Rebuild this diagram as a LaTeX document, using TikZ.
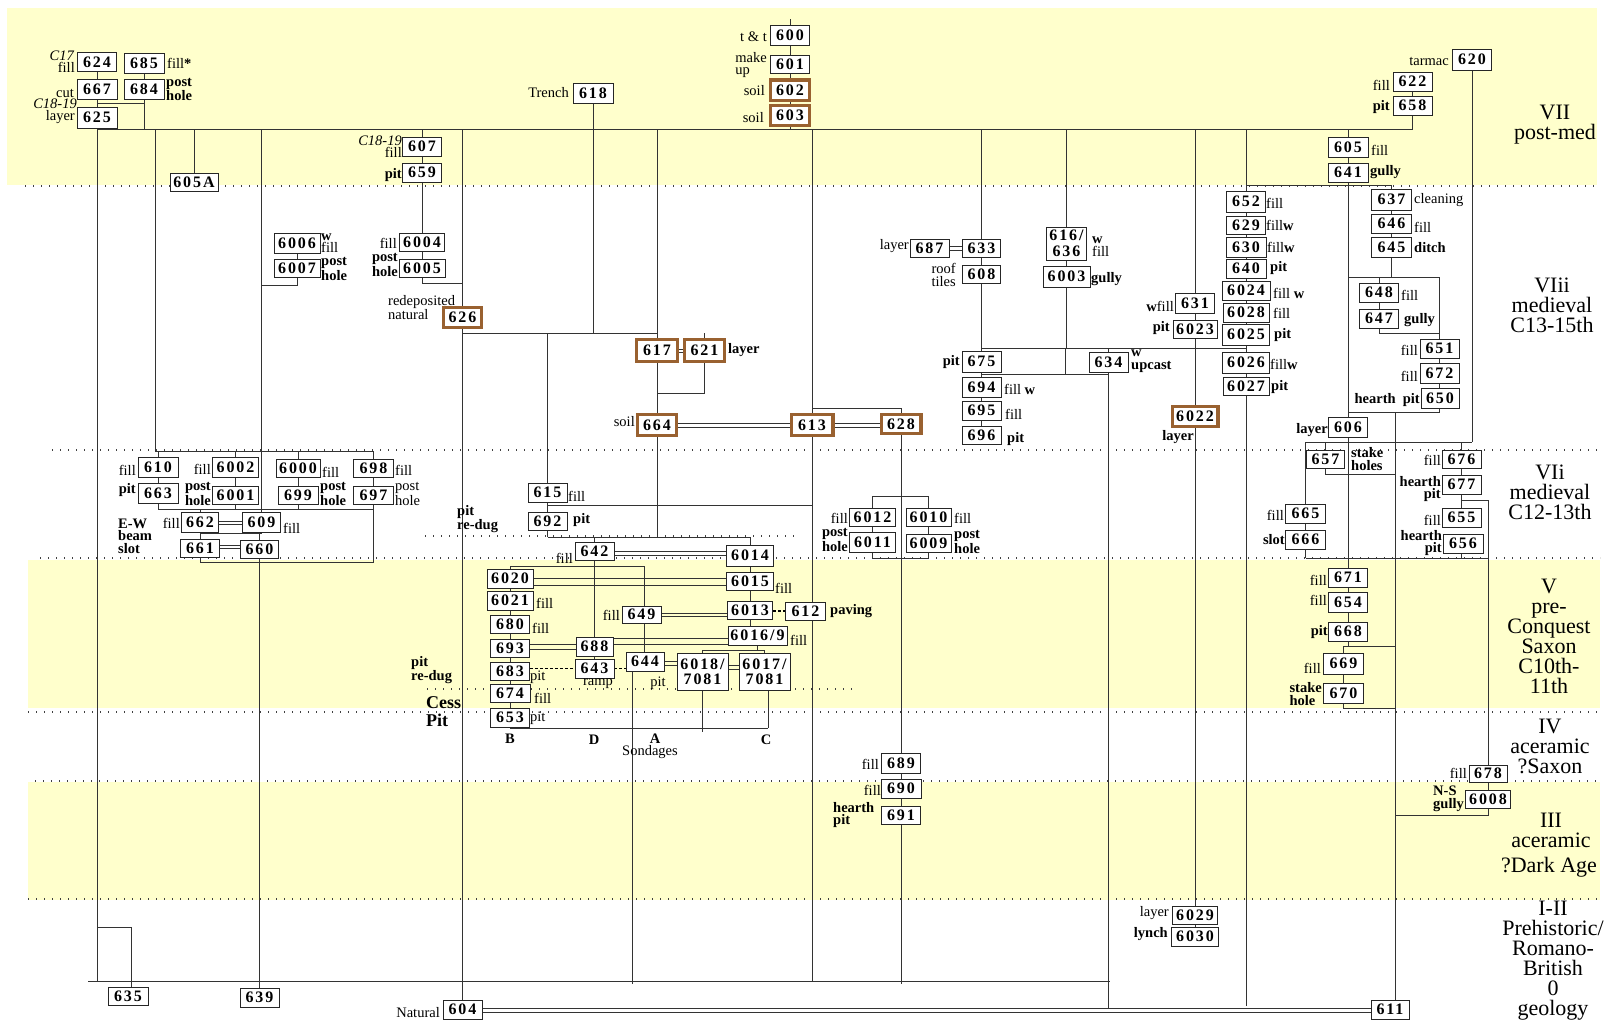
\documentclass[tikz,border=0pt]{standalone}
\usepackage{fontspec}
\setmainfont{Liberation Serif}
\newfontfamily\numfam[LetterSpace=12]{Liberation Serif}
\newcommand\myNum{\numfam\bfseries\fontsize{16}{15.5}\selectfont}
\newcommand\myLab{\fontsize{14.5}{12.5}\selectfont}
\newcommand\myLabB{\bfseries\fontsize{14.5}{12.5}\selectfont}
\newcommand\myPh{\fontsize{22}{20}\selectfont}
\newcommand\dbline[4]{\draw[cn,line width=0.7pt] (#1.east |- 0,#3) -- (#2.west |- 0,#3); \draw[cn,line width=0.7pt] (#1.east |- 0,#4) -- (#2.west |- 0,#4);}
\pgfdeclarelayer{bg}
\pgfsetlayers{bg,main}
\definecolor{ylw}{RGB}{255,255,204}
\definecolor{brn}{RGB}{153,97,48}
\tikzset{
 box/.style={draw=black!85, line width=0.8pt, fill=white, inner sep=0pt, minimum width=39pt, minimum height=19pt, font=\myNum, text height=10.9pt, text depth=0pt},
 bbox/.style={box, draw=brn, line width=3.4pt, minimum width=38.6pt, minimum height=20.6pt},
 box2/.style={draw=black!85, line width=0.8pt, fill=white, inner sep=0pt, align=center, font=\myNum},
 lab/.style={inner sep=0pt, font=\myLab, align=left},
 blab/.style={inner sep=0pt, font=\myLabB, align=left},
 ph/.style={inner sep=0pt, font=\myPh, align=center},
 cn/.style={draw=black!80, line width=0.8pt},
 dsh/.style={draw=black, line width=1.3pt, dash pattern=on 3pt off 2pt},
 dotln/.style={draw=black!75, line width=1.2pt, dash pattern=on 1.2pt off 6.8pt},
}
\begin{document}
\begin{tikzpicture}[x=1pt,y=-1pt]
\useasboundingbox (0,0) rectangle (1610,1021);
% ---------------- boxes: phase VII
\node[box] (n624) at (97,62) {624};
\node[box,minimum width=40pt,minimum height=20pt] (n685) at (144,63) {685};
\node[box,minimum width=40pt,minimum height=20pt] (n667) at (97,89) {667};
\node[box,minimum width=40pt,minimum height=20pt] (n684) at (144,89) {684};
\node[box,minimum width=40pt,minimum height=21pt] (n625) at (97,117.5) {625};
\node[box] (n607) at (422,146.5) {607};
\node[box] (n659) at (422,172.5) {659};
\node[box,minimum width=40pt,minimum height=20pt] (n618) at (593,93) {618};
\node[box,minimum height=20pt] (n600) at (790,35) {600};
\node[box,minimum height=18pt] (n601) at (790,64) {601};
\node[bbox,minimum height=20.4pt] (n602) at (790,90) {602};
\node[bbox,minimum height=20.4pt] (n603) at (790,115.5) {603};
\node[box,minimum height=21pt] (n620) at (1472,59.5) {620};
\node[box] (n622) at (1412.5,81.5) {622};
\node[box] (n658) at (1412.5,105.5) {658};
\node[box,minimum width=40pt,minimum height=20pt] (n605) at (1348,147) {605};
\node[box,minimum width=40pt] (n641) at (1348,172.5) {641};
\node[box,minimum width=48pt,minimum height=18pt] (n605A) at (194,182) {605A};
% ---------------- phase VIii
\node[box,minimum width=46pt,minimum height=20pt] (n6006) at (297,243) {6006};
\node[box,minimum width=46pt,minimum height=18pt] (n6007) at (297,268) {6007};
\node[box,minimum width=45pt,minimum height=18pt] (n6004) at (422,242) {6004};
\node[box,minimum width=46pt,minimum height=18pt] (n6005) at (422,268) {6005};
\node[bbox,minimum width=37.6pt,minimum height=19.6pt] (n626) at (462.5,317.5) {626};
\node[bbox,minimum width=40.6pt,minimum height=21.6pt] (n617) at (657,350.5) {617};
\node[bbox,minimum width=39.6pt,minimum height=21.6pt] (n621) at (704.5,350.5) {621};
\node[bbox,minimum width=38.6pt,minimum height=20.6pt] (n664) at (657,425) {664};
\node[bbox,minimum width=41.6pt,minimum height=20.6pt] (n613) at (812,425) {613};
\node[bbox,minimum width=39.6pt,minimum height=18.6pt] (n628) at (901,424) {628};
\node[box,minimum height=18pt] (n687) at (929.5,248) {687};
\node[box,minimum width=38pt,minimum height=18pt] (n633) at (981.5,248) {633};
\node[box,minimum width=38pt,minimum height=18pt] (n608) at (981.5,274) {608};
\node[box2,minimum width=40pt,minimum height=33pt] (n616) at (1066.5,243.5) {616/\\636};
\node[box,minimum width=47pt,minimum height=21pt] (n6003) at (1066.5,276.5) {6003};
\node[box,minimum height=20pt] (n631) at (1195,303) {631};
\node[box,minimum width=44pt,minimum height=18pt] (n6023) at (1195,329) {6023};
\node[box,minimum height=21pt] (n675) at (981.5,361.5) {675};
\node[box,minimum height=20pt] (n634) at (1108.5,362) {634};
\node[box,minimum height=20pt] (n694) at (981.5,387) {694};
\node[box] (n695) at (981.5,410.5) {695};
\node[box,minimum height=18pt] (n696) at (981.5,435) {696};
\node[bbox,minimum width=45.6pt,minimum height=19.6pt] (n6022) at (1195,416.5) {6022};
\node[box,minimum height=21pt] (n652) at (1246,201.5) {652};
\node[box,minimum height=18pt] (n629) at (1246,225) {629};
\node[box,minimum width=40pt,minimum height=20pt] (n630) at (1246,247) {630};
\node[box,minimum width=40pt] (n640) at (1246,268.5) {640};
\node[box,minimum width=48pt] (n6024) at (1246,290.5) {6024};
\node[box,minimum width=46pt] (n6028) at (1246,312.5) {6028};
\node[box,minimum width=47pt,minimum height=21pt] (n6025) at (1246,334.5) {6025};
\node[box,minimum width=47pt,minimum height=21pt] (n6026) at (1246,362.5) {6026};
\node[box,minimum width=46pt,minimum height=18pt] (n6027) at (1246,386) {6027};
\node[box,minimum width=40pt,minimum height=21pt] (n637) at (1391.5,199.5) {637};
\node[box,minimum width=40pt] (n646) at (1391.5,223.5) {646};
\node[box,minimum width=40pt,minimum height=20pt] (n645) at (1391.5,247) {645};
\node[box] (n648) at (1379,292.5) {648};
\node[box] (n647) at (1379,318.5) {647};
\node[box] (n651) at (1439.5,348.5) {651};
\node[box,minimum height=20pt] (n672) at (1439.5,373) {672};
\node[box,minimum width=38pt,minimum height=20pt] (n650) at (1440,398) {650};
\node[box,minimum height=20pt] (n606) at (1348,427) {606};
% ---------------- phase VIi
\node[box,minimum width=40pt,minimum height=20pt] (n610) at (158,467) {610};
\node[box,minimum width=46pt,minimum height=20pt] (n6002) at (235.5,467) {6002};
\node[box,minimum width=44pt,minimum height=18pt] (n6000) at (298,468) {6000};
\node[box,minimum width=40pt,minimum height=18pt] (n698) at (373.5,468) {698};
\node[box,minimum width=40pt,minimum height=20pt] (n663) at (158,493) {663};
\node[box,minimum width=46pt,minimum height=18pt] (n6001) at (235.5,495) {6001};
\node[box,minimum width=40pt,minimum height=18pt] (n699) at (298,495) {699};
\node[box,minimum width=40pt,minimum height=18pt] (n697) at (373.5,495) {697};
\node[box,minimum width=37pt,minimum height=20pt] (n662) at (200,522) {662};
\node[box,minimum width=38pt,minimum height=20pt] (n609) at (261.5,522) {609};
\node[box,minimum width=39pt,minimum height=18pt] (n661) at (200,548) {661};
\node[box,minimum width=38pt,minimum height=18pt] (n660) at (259.5,549) {660};
\node[box] (n615) at (547.5,492.5) {615};
\node[box,minimum height=18pt] (n692) at (547.5,521) {692};
\node[box,minimum width=46pt,minimum height=18pt] (n6012) at (872.5,517) {6012};
\node[box,minimum width=45pt,minimum height=18pt] (n6010) at (928.5,517) {6010};
\node[box,minimum width=46pt,minimum height=20pt] (n6011) at (872.5,542) {6011};
\node[box,minimum width=45pt,minimum height=18pt] (n6009) at (928.5,543) {6009};
\node[box,minimum width=38pt,minimum height=18pt] (n657) at (1325.5,459) {657};
\node[box,minimum height=18pt] (n676) at (1461.5,459) {676};
\node[box] (n677) at (1461.5,484.5) {677};
\node[box] (n655) at (1461.5,517.5) {655};
\node[box,minimum width=40pt] (n656) at (1463,543.5) {656};
\node[box,minimum width=40pt] (n665) at (1305.5,513.5) {665};
\node[box,minimum width=40pt] (n666) at (1305.5,539.5) {666};
% ---------------- phase V
\node[box,minimum height=18pt] (n642) at (594.5,551) {642};
\node[box,minimum width=47pt,minimum height=21pt] (n6014) at (750,555.5) {6014};
\node[box,minimum width=46pt] (n6020) at (510,578.5) {6020};
\node[box,minimum width=47pt,minimum height=18pt] (n6015) at (750,581) {6015};
\node[box,minimum width=46pt] (n6021) at (510,600.5) {6021};
\node[box,minimum width=45pt,minimum height=18pt] (n6013) at (750,610) {6013};
\node[box,minimum width=40pt,minimum height=18pt] (n612) at (805.5,611) {612};
\node[box,minimum height=17pt] (n649) at (641.5,614.5) {649};
\node[box,minimum height=18pt] (n680) at (510,624) {680};
\node[box,minimum width=59pt] (n6016) at (757.5,635.5) {6016/9};
\node[box,minimum height=18pt] (n693) at (510,648) {693};
\node[box,minimum width=37pt] (n688) at (594.5,646.5) {688};
\node[box,minimum height=18pt] (n683) at (510,671) {683};
\node[box] (n643) at (594.5,668.5) {643};
\node[box,minimum width=38pt] (n644) at (645,661.5) {644};
\node[box2,minimum width=51pt,minimum height=37pt] (n6018) at (702.5,671.5) {6018/\\7081};
\node[box2,minimum width=51pt,minimum height=37pt] (n6017) at (764.5,671.5) {6017/\\7081};
\node[box,minimum width=40pt,minimum height=18pt] (n674) at (510,693) {674};
\node[box] (n653) at (510,717.5) {653};
\node[box] (n671) at (1348,577.5) {671};
\node[box,minimum height=20pt] (n654) at (1348,602) {654};
\node[box] (n668) at (1348,631.5) {668};
\node[box,minimum width=40pt,minimum height=21pt] (n669) at (1343.5,663.5) {669};
\node[box,minimum width=40pt,minimum height=20pt] (n670) at (1343.5,693) {670};
% ---------------- phases IV, III, I-II
\node[box,minimum height=20pt] (n689) at (901,763) {689};
\node[box,minimum width=40pt] (n690) at (901,788.5) {690};
\node[box,minimum height=18pt] (n691) at (901,815) {691};
\node[box,minimum width=38pt,minimum height=17pt] (n678) at (1488,773.5) {678};
\node[box,minimum width=45pt,minimum height=18pt] (n6008) at (1488,799) {6008};
\node[box,minimum width=45pt,minimum height=18pt] (n6029) at (1195,915) {6029};
\node[box,minimum width=47pt] (n6030) at (1195,936.5) {6030};
\node[box,minimum width=40pt,minimum height=18pt] (n635) at (128,996) {635};
\node[box] (n639) at (259.5,997.5) {639};
\node[box] (n604) at (462.5,1009.5) {604};
\node[box,minimum width=38pt] (n611) at (1390,1009.5) {611};
% ---------------- labels
\node[lab,anchor=east,font=\myLab\itshape] (t1) at (74,56) {C17};
\node[lab,anchor=east] (t2) at (75,67.5) {fill};
\node[lab,anchor=west] (t3) at (167,63) {fill{\bfseries *}};
\node[lab,anchor=east] (t4) at (74,93) {cut};
\node[lab,anchor=east,font=\myLab\itshape] (t5) at (77,104) {C18-19};
\node[blab,anchor=west] (t6) at (166,89.5) {post\\hole};
\node[lab,anchor=east] (t7) at (75,117.5) {layer};
\node[lab,anchor=east,font=\myLab\itshape] (t8) at (402,141) {C18-19};
\node[lab,anchor=east] (t9) at (402,152.5) {fill};
\node[blab,anchor=east] (t10) at (402,175) {pit};
\node[lab,anchor=east] (t11) at (569,93) {Trench};
\node[lab,anchor=east] (t12) at (767,37) {t \& t};
\node[lab,anchor=east] (t13) at (767,65) {make\\up};
\node[lab,anchor=east] (t14) at (765,91) {soil};
\node[lab,anchor=east] (t15) at (764,118) {soil};
\node[lab,anchor=east] (t16) at (1449,61) {tarmac};
\node[lab,anchor=east] (t17) at (1390,85) {fill};
\node[blab,anchor=east] (t18) at (1390,107) {pit};
\node[lab,anchor=west] (t19) at (1371,150) {fill};
\node[blab,anchor=west] (t20) at (1370,172) {gully};
\node[lab,anchor=west] (t21) at (321,243) {\textbf{w}\\fill};
\node[blab,anchor=west] (t22) at (321,269) {post\\hole};
\node[lab,anchor=east] (t23) at (397,243) {fill};
\node[blab,anchor=east] (t24) at (398,265) {post\\hole};
\node[lab,anchor=west] (t25) at (388,307.5) {redeposited\\natural};
\node[lab,anchor=east] (t26) at (909,246) {layer};
\node[lab,anchor=east] (t27) at (956,275) {roof\\tiles};
\node[lab,anchor=west] (t28) at (1092,246.5) {\textbf{w}\\fill};
\node[blab,anchor=west] (t29) at (1091,279) {gully};
\node[lab,anchor=east] (t30) at (1174,306) {\textbf{w}fill};
\node[blab,anchor=east] (t31) at (1170,328) {pit};
\node[blab,anchor=east] (t32) at (960,362) {pit};
\node[lab,anchor=west] (t33) at (1004,389) {fill \textbf{w}};
\node[lab,anchor=west] (t34) at (1005,414) {fill};
\node[blab,anchor=west] (t35) at (1007,439) {pit};
\node[blab,anchor=west] (t36) at (1131,361) {w\\upcast};
\node[blab] (t37) at (1178,437) {layer};
\node[lab,anchor=west] (t38) at (1266,203) {fill};
\node[lab,anchor=west] (t39) at (1266,225) {fill\textbf{w}};
\node[lab,anchor=west] (t40) at (1267,247) {fill\textbf{w}};
\node[blab,anchor=west] (t41) at (1270,268) {pit};
\node[lab,anchor=west] (t42) at (1273,293) {fill \textbf{w}};
\node[lab,anchor=west] (t43) at (1273,313) {fill};
\node[blab,anchor=west] (t44) at (1274,335) {pit};
\node[lab,anchor=west] (t45) at (1270,364) {fill\textbf{w}};
\node[blab,anchor=west] (t46) at (1271,387) {pit};
\node[lab,anchor=west] (t47) at (1414,200) {cleaning};
\node[lab,anchor=west] (t48) at (1414,227) {fill};
\node[blab,anchor=west] (t49) at (1414,248) {ditch};
\node[lab,anchor=west] (t50) at (1401,295) {fill};
\node[blab,anchor=west] (t51) at (1404,320) {gully};
\node[lab,anchor=east] (t52) at (1418,350) {fill};
\node[lab,anchor=east] (t53) at (1418,376) {fill};
\node[blab,anchor=east] (t54) at (1420,400) {hearth\ \ pit};
\node[blab,anchor=east] (t55) at (1328,430) {layer};
\node[blab,anchor=west] (t56) at (728,350) {layer};
\node[lab,anchor=east] (t57) at (635,422) {soil};
% VIi labels
\node[lab,anchor=east] (t60) at (136,470) {fill};
\node[lab,anchor=east] (t61) at (211,469) {fill};
\node[lab,anchor=west] (t62) at (322,472) {fill};
\node[lab,anchor=west] (t63) at (395,470) {fill};
\node[blab,anchor=east] (t64) at (136,490) {pit};
\node[blab,anchor=east] (t65) at (211,494) {post\\hole};
\node[blab,anchor=west] (t66) at (320,494) {post\\hole};
\node[lab,anchor=west] (t67) at (395,494) {post\\hole};
\node[blab,anchor=west] (t68) at (118,536) {E-W\\beam\\slot};
\node[lab,anchor=east] (t69) at (180,523) {fill};
\node[lab,anchor=west] (t70) at (283,528) {fill};
\node[lab,anchor=west] (t71) at (568,496) {fill};
\node[blab,anchor=west] (t72) at (573,520) {pit};
\node[blab,anchor=west] (t73) at (457,519) {pit\\re-dug};
\node[lab,anchor=east] (t74) at (848,518) {fill};
\node[lab,anchor=west] (t75) at (954,518) {fill};
\node[blab,anchor=east] (t76) at (848,540) {post\\hole};
\node[blab,anchor=west] (t77) at (954,542) {post\\hole};
\node[blab,anchor=west] (t78) at (1351,459) {stake\\holes};
\node[lab,anchor=east] (t79) at (1441,460) {fill};
\node[blab,anchor=east,align=right] (t80) at (1441,489) {hearth\\pit};
\node[lab,anchor=east] (t81) at (1441,520) {fill};
\node[blab,anchor=east,align=right] (t82) at (1442,543) {hearth\\pit};
\node[lab,anchor=east] (t83) at (1284,515) {fill};
\node[blab,anchor=east] (t84) at (1285,540) {slot};
% V labels
\node[lab,anchor=east] (t90) at (573,558) {fill};
\node[lab,anchor=west] (t91) at (775,588) {fill};
\node[lab,anchor=west] (t92) at (536,603) {fill};
\node[lab,anchor=west] (t93) at (532,628) {fill};
\node[lab,anchor=west] (t94) at (790,640) {fill};
\node[blab,anchor=west] (t95) at (830,611) {paving};
\node[lab,anchor=east] (t96) at (620,615) {fill};
\node[lab,anchor=west] (t97) at (530,677) {pit};
\node[lab] (t98) at (598,684) {ramp};
\node[lab] (t99) at (658,683) {pit};
\node[blab,anchor=west] (t100) at (411,670) {pit\\re-dug};
\node[lab,anchor=west] (t101) at (534,698) {fill};
\node[lab,anchor=west] (t102) at (530,718) {pit};
\node[blab,anchor=west,font=\bfseries\fontsize{18}{18}\selectfont] (t103) at (426,712) {Cess\\Pit};
\node[lab,anchor=east] (t104) at (1327,580) {fill};
\node[lab,anchor=east] (t105) at (1327,600) {fill};
\node[blab,anchor=east] (t106) at (1328,632) {pit};
\node[lab,anchor=east] (t107) at (1321,668) {fill};
\node[blab,anchor=east] (t108) at (1322,694) {stake\\hole};
\node[blab] (t109) at (510,739) {B};
\node[blab] (t110) at (594,740) {D};
\node[blab] (t111) at (655,739) {A};
\node[blab] (t112) at (766,740) {C};
\node[lab] (t113) at (650,752) {Sondages};
% IV-I labels
\node[lab,anchor=east] (t120) at (879,764) {fill};
\node[lab,anchor=east] (t121) at (881,790) {fill};
\node[blab,anchor=west] (t122) at (833,815) {hearth\\pit};
\node[lab,anchor=east] (t123) at (1467,773) {fill};
\node[blab,anchor=west] (t124) at (1433,799) {N-S\\gully};
\node[lab,anchor=east] (t125) at (1169,913) {layer};
\node[blab,anchor=east] (t126) at (1168,934) {lynch};
\node[lab,anchor=east] (t127) at (440,1013) {Natural};
% phase names
\node[ph] (p7) at (1555,125) {VII\\post-med};
\node[ph] (p6b) at (1552,305) {VIii\\medieval\\C13-15th};
\node[ph] (p6a) at (1550,492) {VIi\\medieval\\C12-13th};
\node[ph] (p5) at (1549,636) {V\\pre-\\Conquest\\Saxon\\C10th-\\11th};
\node[ph] (p4) at (1550,746) {IV\\aceramic\\?Saxon};
\node[ph] (p3) at (1551,830) {III\\aceramic};
\node[ph] (p3b) at (1549,867) {?Dark Age};
\node[ph] (p1) at (1553,961) {I-II\\Prehistoric/\\Romano-\\British\\0\\geology};
% ================= background: bands and connectors
\begin{pgfonlayer}{bg}
\fill[ylw] (7,8) rectangle (1597,185);
\fill[ylw] (28,560) rectangle (1600,708);
\fill[ylw] (28,782) rectangle (1600,900);
\draw[dotln] (25,186) -- (1600,186);
\draw[dotln] (52,450) -- (1600,450);
\draw[dotln] (40,558) -- (1600,558);
\draw[dotln] (28,712) -- (1600,712);
\draw[dotln] (35,781) -- (1600,781);
\draw[dotln] (28,899) -- (1600,899);
\draw[dotln] (425,536) -- (797,536);
\draw[dotln] (427,689) -- (855,689);
% --- phase VII
\draw[cn] (n624) -- (n667);
\draw[cn] (n667) -- (n625);
\draw[cn] (n685) -- (n684);
\draw[cn] (n684.south) -- (n684.south |- 0,129);
\draw[cn] (n625.north |- 0,103) -- (n684.south |- 0,103);
\draw[cn] (97,129) -- (1412.5,129);
\draw[cn] (n625.south) -- (97,982);
\draw[cn] (88,981) -- (1110,981);
\draw[cn] (97,927) -| (n635.north -| 131,0);
\draw[cn] (155,129) -- (155,451);
\draw[cn] (194,129) -- (n605A.north);
\draw[cn] (261.5,129) -- (n609.north);
\draw[cn] (n600.north) -- (790,19);
\draw[cn] (n600) -- (n601);
\draw[cn] (n601) -- (n602);
\draw[cn] (n602) -- (n603);
\draw[cn] (n603.south) -- (790,129);
\draw[cn] (n618.south) -- (593,333);
\draw[cn] (n622) -- (n658);
\draw[cn] (n658.south) -- (1412.5,129);
\draw[cn] (1348,129) -- (n605.north);
\draw[cn] (n605) -- (n641);
\draw[cn] (n641.south) -- (n606.north);
% --- phase VIii, left and centre
\draw[cn] (n6006) -- (n6007);
\draw[cn] (n6007.south) -- (297,285) -- (261.5,285);
\draw[cn] (422,129) -- (n607.north);
\draw[cn] (n607) -- (n659);
\draw[cn] (n659) -- (n6004);
\draw[cn] (n6004) -- (n6005);
\draw[cn] (n6005.south) -- (422,283) -- (462.5,283);
\draw[cn] (462.5,129) -- (n626.north);
\draw[cn] (n626.south) -- (n604.north);
\draw[cn] (462.5,333) -- (657,333);
\draw[cn] (657,129) -- (n617.north);
\draw[cn] (547.5,333) -- (n615.north);
\draw[cn] (n615) -- (n692);
\draw[cn] (547.5,505) -- (812,505);
\draw[cn] (n692.south) -- (547.5,537);
\draw[cn] (547.5,537) -- (750,537);
\draw[cn] (n621.north) -- (704.5,333);
\draw[cn] (n617) -- (n664);
\draw[cn] (n621.south) -- (704.5,393) -- (657,393);
\draw[cn] (n664.south) -- (657,537);
\dbline{n617}{n621}{349}{352.5}
\dbline{n664}{n613}{423}{427}
\dbline{n613}{n628}{423}{427}
\draw[cn] (812,129) -- (812,981);
\draw[cn] (812,408) -- (901,408) -- (n628.north);
\draw[cn] (n628.south) -- (901,984);
% --- VIii right
\draw[cn] (981.5,129) -- (n633.north);
\dbline{n687}{n633}{246}{250.5}
\draw[cn] (n633) -- (n608);
\draw[cn] (n608.south) -- (981.5,348);
\draw[cn] (981.5,348) -- (1246,348);
\draw[cn] (1066.5,129) -- (n616.north);
\draw[cn] (n616) -- (n6003);
\draw[cn] (n6003.south) -- (1066.5,348);
\draw[cn] (1195,129) -- (n631.north);
\draw[cn] (n631) -- (n6023);
\draw[cn] (n6023.south) -- (n6022.north);
\draw[cn] (n6022.south) -- (n6029.north);
\draw[cn] (n6029) -- (n6030);
\draw[cn] (981.5,348) -- (n675.north);
\draw[cn] (n675) -- (n694);
\draw[cn] (n694) -- (n695);
\draw[cn] (n695) -- (n696);
\draw[cn] (1065,348) -- (1065,374);
\draw[cn] (981.5,374) -- (1108.5,374);
\draw[cn] (1108.5,348) -- (n634.north);
\draw[cn] (n634.south) -- (1108.5,1008);
\draw[cn] (1246,129) -- (n652.north);
\draw[cn] (n652) -- (n629);
\draw[cn] (n629) -- (n630);
\draw[cn] (n630) -- (n640);
\draw[cn] (n640) -- (n6024);
\draw[cn] (n6024) -- (n6028);
\draw[cn] (n6028) -- (n6025);
\draw[cn] (n6025) -- (n6026);
\draw[cn] (n6026) -- (n6027);
\draw[cn] (n6027.south) -- (1246,1006);
\draw[cn] (1246,185) -- (1391.5,185) -- (n637.north);
\draw[cn] (n637) -- (n646);
\draw[cn] (n646) -- (n645);
\draw[cn] (n645.south) -- (1391.5,277);
\draw[cn] (1348,277) -- (1439.5,277) -- (n651.north);
\draw[cn] (1379,277) -- (n648.north);
\draw[cn] (n648) -- (n647);
\draw[cn] (n647.south) -- (1379,333) -- (1439.5,333);
\draw[cn] (n651) -- (n672);
\draw[cn] (n672) -- (n650.north -| 1439.5,0);
\draw[cn] (n650.south -| 1439.5,0) -- (1439.5,412) -- (1348,412);
\draw[cn] (1395,412) -- (n611.north -| 1395,0);
\draw[cn] (n606.south) -- (n671.north);
\draw[cn] (1305.5,442) -- (1472,442);
\draw[cn] (n620.south) -- (1472,442);
\draw[cn] (1325.5,442) -- (n657.north);
\draw[cn] (1305.5,442) -- (n665.north);
\draw[cn] (1461.5,442) -- (n676.north);
\draw[cn] (n657.south) -- (1325.5,474) -- (1395,474);
\draw[cn] (n676) -- (n677);
\draw[cn] (n677) -- (n655);
\draw[cn] (1461.5,500) -- (1488,500) -- (n678.north);
\draw[cn] (n655.south) -- (n655.south -| n656.north);
\draw[cn] (n656.south -| 1461.5,0) -- (1461.5,558);
\draw[cn] (1305.5,558) -- (1488,558);
\draw[cn] (n665) -- (n666);
\draw[cn] (n666.south) -- (1305.5,558);
\draw[cn] (n671) -- (n654);
\draw[cn] (n654) -- (n668);
\draw[cn] (n668.south) -- (1348,646);
\draw[cn] (1343.5,646) -- (1395,646);
\draw[cn] (1343.5,646) -- (n669.north);
\draw[cn] (n669) -- (n670);
\draw[cn] (n670.south) -- (1343.5,708) -- (1395,708);
\draw[cn] (n678) -- (n6008);
\draw[cn] (n6008.south) -- (1488,815) -- (1395,815);
% --- VIi left
\draw[cn] (155,451) -- (373.5,451);
\draw[cn] (158,451) -- (n610.north);
\draw[cn] (235.5,451) -- (n6002.north);
\draw[cn] (298,451) -- (n6000.north);
\draw[cn] (373.5,451) -- (n698.north);
\draw[cn] (n610) -- (n663);
\draw[cn] (n6002) -- (n6001);
\draw[cn] (n6000) -- (n699);
\draw[cn] (n698) -- (n697);
\draw[cn] (158,509) -- (373.5,509);
\draw[cn] (n663.south) -- (158,509);
\draw[cn] (n6001.south) -- (235.5,509);
\draw[cn] (n699.south) -- (298,509);
\draw[cn] (n697.south) -- (373.5,509);
\draw[cn] (200,509) -- (n662.north);
\dbline{n662}{n609}{521}{524.5}
\draw[cn] (n662.south) -- (200,533) -- (261.5,533);
\draw[cn] (n609.south) -- (261.5,533);
\draw[cn] (200,533) -- (n661.north);
\draw[cn] (259.5,533) -- (n660.north);
\dbline{n661}{n660}{545}{548.5}
\draw[cn] (n661.south) -- (200,562) -- (373.5,562) -- (373.5,509);
\draw[cn] (n660.south) -- (n639.north);
% --- sondages
\draw[cn] (594.5,537) -- (n642.north);
\draw[cn] (750,537) -- (n6014.north);
\dbline{n642}{n6014}{551}{555}
\draw[cn] (n642.south) -- (n688.north);
\draw[cn] (n688) -- (n643);
\draw[cn] (510,566) -- (644,566);
\draw[cn] (510,566) -- (n6020.north);
\draw[cn] (644,566) -- (n644.north -| 644,0);
\draw[cn] (n6014) -- (n6015);
\draw[cn] (n6015) -- (n6013);
\draw[cn] (n6013.south) -- (n6013.south |- n6016.north);
\dbline{n6020}{n6015}{578}{585}
\draw[cn] (n6020) -- (n6021);
\draw[cn] (n6021) -- (n680);
\draw[cn] (n680) -- (n693);
\draw[cn] (n693) -- (n683);
\draw[cn] (n683) -- (n674);
\draw[cn] (n674) -- (n653);
\dbline{n649}{n6013}{613}{616.5}
\draw[dsh] (n6013.east |- 0,611) -- (n612.west |- 0,611);
\dbline{n693}{n688}{644.5}{649}
\dbline{n688}{n6016}{638.5}{644}
\draw[dsh] (n683.east |- 0,668.5) -- (n643.west |- 0,668.5);
\draw[dsh] (n643.east |- 0,668.5) -- (n644.west |- 0,668.5);
\dbline{n644}{n6018}{661}{665}
\dbline{n6018}{n6017}{665.5}{669.5}
\draw[cn] (n6016.south) -- (757.5,650);
\draw[cn] (702.5,650) -- (764.5,650);
\draw[cn] (702.5,650) -- (n6018.north);
\draw[cn] (764.5,650) -- (n6017.north);
\draw[cn] (n644.south -| 632,0) -- (632,984);
\draw[cn] (n6018.south) -- (702.5,732);
\draw[cn] (n6017.south -| 768,0) -- (768,728);
\draw[cn] (510,728) -- (768,728);
\draw[cn] (n653.south) -- (510,728);
% --- 6012 group
\draw[cn] (872.5,496) -- (928.5,496);
\draw[cn] (872.5,496) -- (n6012.north);
\draw[cn] (928.5,496) -- (n6010.north);
\draw[cn] (n6012) -- (n6011);
\draw[cn] (n6010) -- (n6009);
\draw[cn] (n6011.south) -- (872.5,558) -- (928.5,558) -- (n6009.south);
% --- bottom
\dbline{n604}{n611}{1008}{1012}
\end{pgfonlayer}
\end{tikzpicture}
\end{document}
